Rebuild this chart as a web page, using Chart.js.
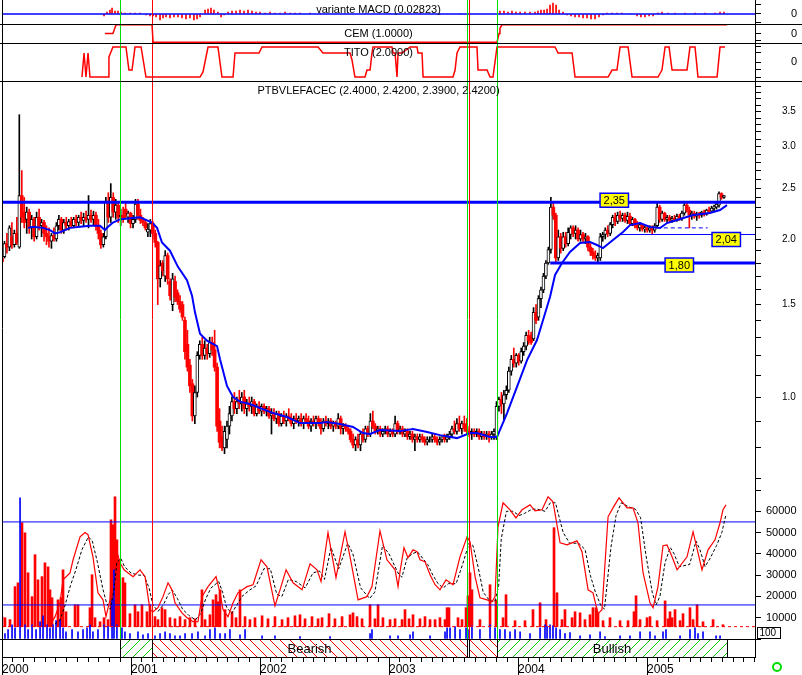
<!DOCTYPE html>
<html><head><meta charset="utf-8"><title>PTBVLEFACEC</title>
<script src="https://cdn.jsdelivr.net/npm/chart.js"></script>
<style>html,body{margin:0;padding:0;background:#fff;overflow:hidden}canvas{display:block}</style>
</head><body>
<canvas id="c" width="802" height="675"></canvas>
<script>
// ================= DATA =================
// weekly candles from first week of 2000
const opens = [
1.84,1.85,1.96,1.93,2.02,1.95,2.05,1.93,2.42,2.25,
2.18,2.25,2.10,2.18,2.02,2.20,2.12,2.15,2.05,2.02,
1.98,2.03,2.00,2.12,2.18,2.08,2.15,2.12,2.16,2.12,
2.18,2.15,2.20,2.17,2.20,2.18,2.22,2.18,2.22,2.12,
2.05,1.95,2.02,2.35,2.20,2.40,2.25,2.32,2.20,2.22,
2.28,2.20,2.24,2.14,2.18,2.33,2.22,2.17,2.15,2.06,
2.08,2.14,2.05,1.97,1.68,1.80,1.70,1.86,1.66,1.50,
1.66,1.58,1.52,1.50,1.40,1.26,1.15,1.06,0.92,1.02,
1.20,1.26,1.20,1.24,1.21,1.27,1.23,1.14,0.90,0.84,
0.80,0.83,0.88,0.92,0.98,0.95,0.98,0.97,1.00,0.95,
0.97,0.96,0.98,0.93,0.96,0.94,0.96,0.94,0.95,0.92,
0.93,0.91,0.93,0.89,0.92,0.90,0.92,0.91,0.89,0.91,
0.90,0.91,0.89,0.91,0.90,0.88,0.90,0.89,0.91,0.89,
0.87,0.90,0.89,0.90,0.88,0.89,0.88,0.91,0.87,0.88,
0.87,0.86,0.83,0.81,0.83,0.81,0.85,0.83,0.87,0.85,
0.90,0.88,0.86,0.87,0.85,0.86,0.87,0.85,0.86,0.85,
0.89,0.86,0.87,0.85,0.86,0.84,0.85,0.83,0.84,0.83,
0.84,0.83,0.82,0.83,0.83,0.84,0.83,0.82,0.83,0.84,
0.83,0.84,0.85,0.87,0.86,0.89,0.87,0.89,0.87,0.86,
0.85,0.86,0.85,0.86,0.84,0.85,0.84,0.85,0.84,0.85,
0.84,0.96,0.99,0.97,1.01,1.03,1.12,1.18,1.16,1.20,
1.17,1.22,1.25,1.31,1.31,1.29,1.45,1.42,1.54,1.60,
1.70,1.80,1.91,2.30,2.22,1.84,2.02,1.92,2.02,1.96,
2.04,2.10,2.05,2.08,2.00,2.04,2.00,2.02,1.93,1.89,
1.86,1.84,1.84,2.02,2.04,2.08,2.05,2.13,2.20,2.16,
2.22,2.19,2.22,2.17,2.21,2.14,2.18,2.12,2.10,2.13,
2.09,2.10,2.08,2.10,2.08,2.12,2.30,2.18,2.24,2.18,
2.20,2.17,2.19,2.18,2.21,2.19,2.24,2.32,2.27,2.22,
2.24,2.21,2.23,2.22,2.25,2.23,2.27,2.26,2.29,2.30,
2.32,2.44,2.40];
const highs = [
1.85,1.98,2.05,2.12,2.15,2.08,2.20,3.45,2.70,2.40,
2.30,2.28,2.22,2.20,2.25,2.28,2.18,2.17,2.12,2.10,
2.05,2.10,2.15,2.22,2.20,2.18,2.20,2.18,2.20,2.20,
2.22,2.22,2.25,2.24,2.26,2.42,2.27,2.26,2.25,2.18,
2.08,2.05,2.40,2.45,2.55,2.45,2.38,2.35,2.28,2.30,
2.35,2.26,2.25,2.22,2.38,2.38,2.28,2.20,2.18,2.14,
2.18,2.16,2.08,1.98,1.82,1.82,1.90,1.88,1.68,1.72,
1.70,1.60,1.56,1.52,1.42,1.34,1.18,1.08,1.05,1.22,
1.28,1.30,1.28,1.26,1.30,1.30,1.34,1.16,0.95,0.88,
0.88,0.90,0.96,1.00,1.02,1.00,1.03,1.02,1.03,0.99,
1.00,1.00,0.99,0.97,0.98,0.97,0.97,0.96,0.96,0.95,
0.95,0.94,0.94,0.93,0.94,0.93,0.95,0.93,0.92,0.93,
0.92,0.93,0.92,0.93,0.92,0.91,0.92,0.92,0.92,0.91,
0.91,0.92,0.91,0.91,0.90,0.90,0.93,0.92,0.89,0.89,
0.88,0.87,0.85,0.84,0.85,0.86,0.87,0.88,0.88,0.93,
0.94,0.89,0.88,0.88,0.87,0.88,0.88,0.87,0.87,0.92,
0.90,0.88,0.88,0.87,0.87,0.86,0.86,0.85,0.85,0.85,
0.85,0.84,0.84,0.84,0.85,0.85,0.84,0.84,0.84,0.85,
0.85,0.86,0.88,0.90,0.91,0.92,0.90,0.92,0.91,0.88,
0.87,0.87,0.87,0.87,0.86,0.86,0.86,0.86,0.86,0.87,
0.98,1.00,1.02,1.03,1.05,1.14,1.20,1.24,1.21,1.21,
1.24,1.27,1.33,1.34,1.33,1.48,1.50,1.56,1.62,1.72,
1.82,1.93,2.40,2.35,2.24,2.08,2.05,2.06,2.06,2.10,
2.12,2.12,2.12,2.10,2.08,2.06,2.05,2.03,1.96,1.92,
1.90,1.88,2.05,2.06,2.10,2.12,2.15,2.22,2.24,2.25,
2.26,2.24,2.24,2.25,2.24,2.20,2.19,2.16,2.15,2.14,
2.12,2.12,2.12,2.12,2.14,2.35,2.32,2.26,2.25,2.22,
2.22,2.21,2.22,2.23,2.23,2.26,2.36,2.35,2.30,2.26,
2.26,2.25,2.25,2.26,2.27,2.28,2.30,2.31,2.32,2.34,
2.46,2.45,2.42];
const lows = [
1.80,1.84,1.88,1.90,1.92,1.93,1.95,1.92,2.15,2.10,
2.05,2.05,2.00,1.98,2.00,2.08,2.02,1.98,1.95,1.93,
1.92,1.98,1.98,2.08,2.05,2.05,2.08,2.08,2.10,2.10,
2.12,2.12,2.14,2.12,2.15,2.10,2.15,2.12,2.08,2.00,
1.92,1.93,2.00,2.15,2.15,2.20,2.18,2.15,2.12,2.15,
2.18,2.15,2.10,2.10,2.15,2.18,2.14,2.12,2.08,2.02,
2.02,2.00,1.93,1.50,1.62,1.70,1.66,1.64,1.53,1.46,
1.52,1.50,1.45,1.40,1.18,1.12,1.02,0.90,0.89,1.00,
1.18,1.18,1.18,1.18,1.19,1.20,1.12,0.86,0.80,0.79,
0.78,0.80,0.85,0.90,0.93,0.93,0.95,0.94,0.93,0.92,
0.94,0.93,0.92,0.92,0.93,0.92,0.93,0.92,0.91,0.85,
0.90,0.89,0.88,0.88,0.89,0.88,0.90,0.88,0.87,0.89,
0.88,0.88,0.87,0.89,0.87,0.86,0.88,0.87,0.88,0.85,
0.86,0.88,0.87,0.87,0.86,0.87,0.87,0.85,0.85,0.86,
0.85,0.82,0.80,0.79,0.80,0.79,0.82,0.82,0.84,0.84,
0.87,0.85,0.85,0.84,0.84,0.85,0.84,0.84,0.84,0.84,
0.85,0.85,0.84,0.84,0.83,0.83,0.82,0.79,0.82,0.82,
0.82,0.81,0.81,0.82,0.82,0.82,0.81,0.81,0.82,0.82,
0.82,0.83,0.84,0.85,0.85,0.86,0.85,0.86,0.85,0.84,
0.83,0.84,0.84,0.83,0.83,0.83,0.83,0.82,0.83,0.83,
0.83,0.94,0.93,0.90,0.99,1.02,1.10,1.14,1.14,1.15,
1.16,1.20,1.23,1.26,1.26,1.28,1.38,1.40,1.48,1.58,
1.68,1.79,1.88,2.18,1.80,1.82,1.88,1.90,1.93,1.94,
2.00,2.02,2.00,1.98,1.98,1.97,1.96,1.90,1.86,1.83,
1.82,1.81,1.82,1.98,2.00,2.02,2.03,2.10,2.12,2.14,
2.16,2.16,2.15,2.14,2.12,2.12,2.10,2.08,2.07,2.07,
2.06,2.06,2.06,2.04,2.06,2.10,2.15,2.16,2.16,2.15,
2.15,2.15,2.16,2.16,2.17,2.17,2.22,2.25,2.10,2.18,
2.19,2.17,2.19,2.20,2.21,2.22,2.24,2.25,2.26,2.28,
2.30,2.38,2.39];
const closes = [
1.81,1.96,1.93,2.10,1.95,2.05,1.97,2.42,2.20,2.15,
2.25,2.10,2.18,2.02,2.20,2.12,2.15,2.05,2.02,1.98,
2.03,2.00,2.12,2.18,2.08,2.15,2.12,2.16,2.12,2.18,
2.15,2.20,2.17,2.20,2.18,2.22,2.18,2.22,2.12,2.05,
1.95,2.02,2.35,2.20,2.40,2.25,2.32,2.20,2.22,2.18,
2.22,2.24,2.14,2.18,2.33,2.22,2.17,2.15,2.10,2.09,
2.14,2.05,1.97,1.68,1.78,1.74,1.86,1.68,1.56,1.68,
1.55,1.52,1.47,1.42,1.22,1.14,1.05,0.92,1.02,1.20,
1.26,1.20,1.24,1.21,1.27,1.23,1.14,0.88,0.82,0.80,
0.86,0.88,0.93,0.98,0.95,0.98,0.97,1.00,0.95,0.97,
0.96,0.98,0.93,0.96,0.94,0.96,0.94,0.95,0.92,0.93,
0.91,0.93,0.89,0.92,0.90,0.92,0.91,0.89,0.91,0.90,
0.91,0.89,0.91,0.90,0.88,0.90,0.89,0.91,0.89,0.87,
0.90,0.89,0.90,0.88,0.89,0.88,0.91,0.87,0.88,0.87,
0.86,0.83,0.81,0.83,0.81,0.85,0.83,0.87,0.85,0.90,
0.88,0.86,0.87,0.85,0.86,0.87,0.85,0.86,0.85,0.89,
0.86,0.87,0.85,0.86,0.84,0.85,0.83,0.84,0.83,0.84,
0.83,0.82,0.83,0.83,0.84,0.83,0.82,0.83,0.84,0.83,
0.84,0.85,0.87,0.86,0.89,0.87,0.89,0.87,0.86,0.85,
0.86,0.85,0.86,0.84,0.85,0.84,0.85,0.84,0.85,0.86,
0.96,0.99,0.97,1.01,1.03,1.12,1.18,1.16,1.20,1.17,
1.22,1.25,1.31,1.28,1.27,1.45,1.40,1.54,1.60,1.70,
1.80,1.91,2.30,2.22,1.84,2.02,1.92,2.02,1.96,2.06,
2.10,2.05,2.08,2.00,2.04,2.00,2.02,1.93,1.89,1.86,
1.84,1.86,2.02,2.04,2.08,2.05,2.13,2.20,2.16,2.22,
2.19,2.22,2.17,2.21,2.14,2.18,2.12,2.10,2.13,2.09,
2.10,2.08,2.10,2.08,2.12,2.30,2.18,2.24,2.18,2.20,
2.17,2.19,2.18,2.21,2.19,2.24,2.32,2.27,2.22,2.24,
2.21,2.23,2.22,2.25,2.23,2.27,2.26,2.29,2.30,2.33,
2.44,2.40,2.42];

// moving average (blue)
const maDates = [2000.202,2000.240,2000.318,2000.372,2000.411,2000.450,2000.488,2000.527,2000.605,2000.682,2000.760,2000.798,2000.822,2000.860,2000.915,2000.992,
2001.070,2001.163,2001.202,2001.240,2001.302,2001.364,2001.434,2001.473,2001.496,2001.535,2001.589,2001.667,2001.690,2001.744,2001.791,2001.845,2001.922,
2002.000,2002.101,2002.209,2002.310,2002.465,2002.519,2002.620,2002.721,2002.798,2002.853,2002.930,
2003.085,2003.186,2003.295,2003.395,2003.527,2003.628,2003.682,2003.783,2003.837,2003.915,2003.992,
2004.070,2004.147,2004.194,2004.248,2004.287,2004.341,2004.403,2004.481,2004.558,2004.612,2004.659,2004.736,2004.814,2004.868,2004.946,
2005.023,2005.101,2005.155,2005.233,2005.357,2005.488,2005.566,2005.620];
const maValues = [2.10,2.11,2.10,2.08,2.05,2.06,2.08,2.10,2.11,2.12,2.12,2.08,2.11,2.15,2.18,2.19,
2.20,2.15,2.10,1.97,1.90,1.77,1.67,1.56,1.45,1.32,1.28,1.25,1.18,1.05,1.00,0.98,0.97,
0.953,0.932,0.916,0.892,0.892,0.896,0.888,0.877,0.854,0.850,0.865,
0.861,0.869,0.858,0.846,0.835,0.854,0.854,0.839,0.839,0.932,1.045,
1.176,1.284,1.402,1.551,1.708,1.800,1.889,1.965,1.974,1.948,1.922,1.991,2.062,2.126,2.145,
2.108,2.099,2.145,2.174,2.222,2.241,2.271,2.321];

// support / resistance levels
const levelValues = [2.35, 2.04, 1.80];
const levelTexts = ['2,35', '2,04', '1,80'];
const levelStarts = [2000.0, 2004.79, 2004.25];
const dashLevelValue = 2.10;
const dashLevelDates = [2005.13, 2005.47];

// lower panel: red bars (from baseline), blue bars, oscillator + signal
const volBaseline = 5800;
const redVolDates = [2000.000,2000.023,2000.062,2000.101,2000.124,2000.155,2000.178,2000.202,2000.233,2000.256,2000.279,2000.310,2000.333,2000.357,2000.372,2000.388,2000.434,2000.457,2000.473,2000.496,2000.566,2000.589,2000.682,2000.698,2000.721,2000.760,2000.791,2000.822,2000.845,2000.860,2000.876,2000.891,2000.907,2000.938,2000.953,2000.992,
2001.031,2001.054,2001.085,2001.124,2001.147,2001.186,2001.209,2001.240,2001.264,2001.302,2001.341,2001.380,2001.419,2001.457,2001.496,2001.550,2001.574,2001.612,2001.636,2001.659,2001.674,2001.690,2001.729,2001.783,2001.814,2001.845,2001.884,2001.922,2001.961,
2002.016,2002.062,2002.116,2002.171,2002.217,2002.271,2002.310,2002.349,2002.403,2002.450,2002.481,2002.535,2002.581,2002.636,2002.698,2002.721,2002.752,2002.791,2002.853,2002.891,2002.915,2002.953,
2003.008,2003.047,2003.101,2003.124,2003.155,2003.186,2003.240,2003.279,2003.318,2003.357,2003.395,2003.434,2003.450,2003.465,2003.535,2003.566,2003.597,2003.612,2003.628,2003.643,2003.705,2003.783,2003.829,2003.884,2003.907,2003.977,
2004.054,2004.116,2004.171,2004.217,2004.279,2004.302,2004.341,2004.364,2004.419,2004.442,2004.481,2004.519,2004.558,2004.581,2004.605,2004.620,2004.659,2004.713,2004.791,2004.853,2004.899,2004.915,2004.946,
2005.000,2005.023,2005.078,2005.140,2005.163,2005.178,2005.194,2005.217,2005.256,2005.279,2005.333,2005.357,2005.388,2005.434,2005.512,2005.589];
const redVolValues = [10500,10000,9100,24600,26400,54600,49900,31100,19900,39600,27800,29300,35800,33900,23100,19400,18400,19400,32500,12800,16100,16100,14700,30200,10000,8100,10000,9100,56000,53700,66800,46600,37200,28800,26400,11900,
16100,12800,16100,12800,16100,10500,9100,14700,13800,10000,9500,10500,9100,10000,9500,23100,9100,11400,18400,20800,17500,23100,13800,12800,10000,23100,10500,9100,10000,
10900,9500,10500,9100,10000,10900,11400,9500,10500,9500,10000,11900,9500,10500,11400,12300,10500,9500,16100,9500,16100,10000,
9100,9500,9100,13800,9500,11400,9500,10500,9100,9100,10000,9100,14700,14700,10000,9100,14700,20300,31100,23100,9100,25500,18400,10000,20800,8600,
8600,13800,17000,9100,52300,21700,9100,13800,10000,12800,12300,9100,11400,14700,14700,12300,8600,10000,8600,8600,12800,20300,9100,
10000,10500,8600,17900,9500,12800,10000,13800,8600,11900,14700,9100,16100,8100,9100,6700];
const blueVolDates = [2000.023,2000.047,2000.078,2000.101,2000.140,2000.178,2000.202,2000.233,2000.264,2000.295,2000.318,2000.349,2000.372,2000.395,2000.419,2000.450,2000.473,2000.496,2000.543,2000.589,2000.628,2000.659,2000.682,2000.705,2000.744,2000.791,2000.822,2000.853,2000.868,2000.891,2000.930,2000.953,2000.992,
2001.054,2001.093,2001.132,2001.186,2001.225,2001.264,2001.302,2001.341,2001.380,2001.419,2001.473,2001.519,2001.574,2001.612,2001.651,2001.690,2001.729,2001.767,2001.845,2001.884,
2002.016,2002.116,2002.310,2002.543,2002.853,2002.868,
2003.008,2003.070,2003.163,2003.186,2003.318,2003.434,2003.450,2003.473,2003.512,2003.550,2003.597,2003.612,2003.643,2003.705,2003.783,2003.822,2003.860,2003.899,2003.938,2003.977,
2004.016,2004.093,2004.171,2004.209,2004.225,2004.248,2004.271,2004.295,2004.326,2004.364,2004.403,2004.481,2004.558,2004.636,2004.674,2004.791,2004.868,2004.946,
2005.023,2005.062,2005.124,2005.147,2005.256,2005.333,2005.372,2005.395,2005.434,2005.535,2005.566];
const blueVolValues = [2500,4400,6700,5300,66300,6700,4400,6700,4400,8100,10900,6700,5300,6700,8600,9100,5300,3400,4400,3400,4400,5300,6700,3400,4400,6700,5800,18400,32500,6700,5300,3400,2500,
3400,2000,2500,1500,2500,3400,2500,1500,1500,2500,2500,3400,1500,4400,5300,2500,2500,4400,2000,4400,
1500,1500,1100,1100,2500,4400,
1500,1500,2000,3400,1500,3400,5300,5300,5800,4400,5300,4400,6200,4400,6700,5300,4400,4400,3400,4400,
3400,2500,5300,6700,5800,6700,6200,5300,4400,2500,3000,1500,2000,3400,1100,1500,1500,3400,
3400,1500,3400,4400,1500,4400,5300,2500,3400,1500,1500];
const oscDates = [2000.388,2000.411,2000.450,2000.473,2000.527,2000.550,2000.605,2000.643,2000.667,2000.705,2000.744,2000.783,2000.806,2000.837,2000.860,2000.891,2000.915,2000.946,
2001.016,2001.070,2001.109,2001.147,2001.171,2001.209,2001.248,2001.287,2001.318,2001.341,2001.395,2001.434,2001.481,2001.519,2001.550,2001.597,2001.659,2001.690,2001.713,2001.752,2001.791,2001.829,2001.899,2001.946,
2002.008,2002.054,2002.116,2002.155,2002.202,2002.256,2002.326,2002.388,2002.442,2002.473,2002.527,2002.589,2002.659,2002.698,2002.760,2002.829,2002.868,2002.930,2002.984,
2003.047,2003.070,2003.085,2003.116,2003.147,2003.186,2003.217,2003.240,2003.279,2003.318,2003.357,2003.395,2003.442,2003.496,2003.550,2003.605,2003.628,2003.667,2003.705,2003.760,2003.798,2003.822,2003.845,2003.884,2003.938,2003.984,
2004.031,2004.093,2004.132,2004.186,2004.233,2004.271,2004.326,2004.380,2004.457,2004.496,2004.543,2004.581,2004.620,2004.651,2004.698,2004.736,2004.783,2004.845,2004.891,2004.930,2004.969,
2005.023,2005.047,2005.085,2005.124,2005.155,2005.194,2005.233,2005.310,2005.357,2005.395,2005.426,2005.473,2005.527,2005.566,2005.589,2005.612];
const oscValues = [8100,10500,17000,27800,31000,37000,48000,50000,49000,38600,21700,18400,10500,18400,38600,41000,35800,32500,
29300,32500,29300,13800,12800,14700,19900,26400,23100,17000,12300,10000,8100,8100,19900,24600,29300,21700,13800,10500,17000,21700,24600,25500,
37200,33900,15600,23100,32500,26400,23100,35300,32500,27000,50000,28800,50400,38600,18400,19900,24600,50800,37200,
32500,24600,31600,42900,38200,41900,41000,37200,36300,30200,25500,23100,27800,25500,38600,48000,45700,29300,19400,18400,17500,19900,52700,64000,60700,56900,
60700,63000,60200,60700,66800,64500,45200,44200,46100,41000,23100,21700,11900,13800,57400,61600,66300,61600,61600,54600,31200,
17000,14700,24600,43800,44200,38600,32500,38600,50400,40600,32500,41900,46600,54600,60700,63000];
const sigDates = [2000.41,2000.45,2000.49,2000.53,2000.57,2000.62,2000.67,2000.70,2000.74,2000.78,2000.81,2000.84,2000.87,2000.89,2000.92,2000.95,
2001.00,2001.06,2001.10,2001.14,2001.17,2001.21,2001.25,2001.29,2001.32,2001.36,2001.40,2001.45,2001.50,2001.54,2001.58,2001.62,2001.68,2001.71,2001.74,2001.78,2001.82,2001.86,2001.92,2001.97,
2002.03,2002.08,2002.13,2002.17,2002.22,2002.28,2002.35,2002.41,2002.46,2002.50,2002.55,2002.61,2002.68,2002.72,2002.78,2002.85,2002.89,2002.95,
2003.00,2003.07,2003.10,2003.14,2003.18,2003.22,2003.26,2003.30,2003.34,2003.38,2003.42,2003.46,2003.52,2003.57,2003.62,2003.65,2003.69,2003.73,2003.78,2003.82,2003.85,2003.87,2003.91,2003.96,
2004.01,2004.05,2004.11,2004.15,2004.21,2004.25,2004.29,2004.35,2004.40,2004.47,2004.52,2004.56,2004.60,2004.64,2004.67,2004.72,2004.76,2004.80,2004.86,2004.91,2004.95,2004.99,
2005.04,2005.07,2005.10,2005.14,2005.18,2005.21,2005.25,2005.33,2005.38,2005.41,2005.45,2005.49,2005.54,2005.58,2005.61];
const sigValues = [7000,9000,16000,25000,32000,42000,48000,46000,36000,24000,17000,14000,24000,36000,38000,34000,
31000,30000,30000,24000,16000,13000,16000,21000,23000,19000,14000,11000,9000,12000,19000,24000,27000,22000,15000,12000,16000,20000,23000,25000,
33000,33000,21000,20000,28000,27000,24000,31000,32000,28000,43000,33000,45000,40000,24000,19000,22000,44000,
40000,31000,29000,38000,40000,41000,38000,35000,30000,26000,24000,26000,26000,35000,45000,44000,34000,22000,18000,17500,25000,47000,60000,60000,
58000,59000,61000,61000,60000,64000,64000,50000,45000,45000,42000,30000,22000,16000,14000,43000,58000,64000,62000,61000,57000,40000,
22000,16000,20000,36000,43000,40000,34000,35000,46000,42000,34000,38000,44000,50000,58000];
const volLevels = [55000, 16000];

// variante MACD histogram
const macdDates = [2000.791,2000.814,2000.837,2000.853,2000.876,2000.899,2000.922,2000.953,2000.992,
2001.031,2001.070,2001.116,2001.147,2001.171,2001.194,2001.225,2001.248,2001.271,2001.302,2001.333,2001.364,2001.395,2001.426,2001.457,2001.488,2001.512,2001.535,2001.574,2001.597,2001.620,2001.643,2001.674,2001.698,2001.721,2001.752,2001.783,2001.814,2001.845,2001.876,2001.907,2001.938,2001.969,
2002.000,2002.039,2002.078,2002.116,2002.155,2002.194,2002.233,2002.271,2002.310,2002.388,2002.465,2002.659,2002.814,
2003.008,2003.124,2003.240,2003.395,2003.550,2003.628,2003.860,2003.891,2003.922,2003.953,2003.984,
2004.016,2004.054,2004.093,2004.132,2004.155,2004.178,2004.202,2004.225,2004.248,2004.271,2004.295,2004.318,2004.349,2004.380,2004.411,2004.442,2004.473,2004.504,2004.535,2004.566,2004.597,2004.628,2004.659,2004.690,2004.729,2004.767,2004.806,2004.868,2004.922,2004.953,2004.984,
2005.016,2005.047,2005.085,2005.116,2005.163,2005.217,2005.295,2005.372,2005.450,2005.527,2005.566,2005.597];
const macdValues = [-0.03,0.03,0.06,0.09,0.045,0.045,0.03,0.015,0.015,
0.015,0.015,-0.015,-0.03,-0.03,-0.045,-0.09,-0.06,-0.045,-0.06,-0.045,-0.045,-0.06,-0.075,-0.06,-0.09,-0.075,-0.045,0.06,0.075,0.09,0.06,0.03,-0.045,-0.015,0.03,0.045,0.045,0.06,0.045,0.06,0.045,0.03,
0.03,0.015,0.03,0.015,0.015,0.03,0.015,0.015,0.015,0.015,0.015,0.008,0.008,
0.008,0.008,0.015,-0.008,0.008,0.008,0.045,0.045,0.03,0.045,0.03,
0.03,0.03,0.03,0.03,0.045,0.06,0.06,0.075,0.135,0.165,0.135,0.06,0.03,-0.015,-0.03,-0.045,-0.045,-0.06,-0.06,-0.075,-0.075,-0.045,-0.015,0.015,0.015,0.015,0.015,0.008,-0.03,-0.045,-0.045,
-0.03,-0.03,0.015,0.03,0.015,0.015,0.015,0.015,0.015,0.015,0.03,0.03];

// CEM and TITO indicator lines
const cemDates = [2000.798,2000.860,2000.884,2001.163,2001.171,2003.837,2003.853,2003.860,2003.876,2005.620];
const cemValues = [0,0,1,1,-1,-1,0,0.6,1,1];
const titoDates = [2000.620,2000.636,2000.651,2000.667,2000.682,2000.822,2000.829,2000.860,2000.961,2000.984,2001.008,2001.031,2001.078,2001.116,2001.535,2001.558,2001.597,2001.674,2001.705,2001.791,2001.806,2001.992,
2002.016,2002.450,2002.488,2002.698,2002.713,2002.736,2002.814,2002.829,2002.853,2002.868,2002.876,2003.023,2003.031,2003.047,2003.062,2003.070,2003.101,2003.163,2003.217,2003.225,2003.256,2003.264,
2003.496,2003.512,2003.527,2003.550,2003.682,2003.690,2003.760,2003.783,2003.806,2003.837,2004.287,2004.310,2004.419,2004.442,2004.698,2004.729,2004.767,2004.791,2004.853,2004.884,
2005.085,2005.116,2005.140,2005.171,2005.194,2005.310,2005.333,2005.372,2005.395,2005.543,2005.566,2005.605];
const titoValues = [-2,1.2,-2,1.2,-2,-2,0.67,2,2,-1.07,-1.07,2,2,-2,-2,-1.33,2,2,-2,-2,1.2,1.2,
2,2,1.2,1.2,0.27,-2,-2,-1.07,-1.07,1.2,2,2,1.2,1.2,-2,1.2,1.2,2,2,1.2,1.2,-2,
-2,-1.07,1.2,2,2,-1.07,-1.07,-2,-2,2,2,1.2,1.2,-2,-2,-1.07,-1.07,2,2,-2,
-2,-1.07,2,2,-1.07,-1.07,2,2,-2,-2,2,2];

// signals and trend band
const signalDates = [2000.915, 2001.163, 2003.605, 2003.620, 2003.837];
const signalKinds = ['buy', 'sell', 'buy', 'sell', 'buy'];
const bandStarts = [2000.915, 2001.163, 2003.620, 2003.837];
const bandEnds = [2001.163, 2003.605, 2003.837, 2005.620];
const bandKinds = ['bull', 'bear', 'bear', 'bull'];
const bandLabels = ['', 'Bearish', '', 'Bullish'];

// axis ticks
const years = [2000, 2001, 2002, 2003, 2004, 2005];
const priceTickValues = [0.7,0.8,0.9,1.0,1.1,1.2,1.3,1.4,1.5,1.6,1.7,1.8,1.9,2.0,2.1,2.2,2.3,2.4,2.5,2.6,2.7,2.8,2.9,3.0,3.1,3.2,3.3,3.4,3.5,3.6,3.7,3.8,3.9];
const priceTickLabels = ['1.0','1.5','2.0','2.5','3.0','3.5'];
const volTickValues = [0,10000,20000,30000,40000,50000,60000,70000];
const volTickLabels = ['10000','20000','30000','40000','50000','60000'];
const macdTickValues = [-0.12, 0, 0.135];
const cemTickValues = [-0.8, 0, 1];
const titoTickValues = [-2, -1, 0, 1.2, 2];
const panelTitles = ['variante MACD (0.02823)', 'CEM (1.0000)', 'TITO (2.0000)', 'PTBVLEFACEC (2.4000, 2.4200, 2.3900, 2.4200)'];
const lowerBoxText = '100';

// ================= RENDER =================
const X_MIN = 2000.0, X_MAX = 2005.837;
const RED = '#ff0000', BLUE = '#0000ff', GREEN = '#00dd00', BLACK = '#000000';
const FONT = '"Liberation Sans", Arial, sans-serif';
Chart.defaults.font.family = FONT;
Chart.defaults.color = BLACK;

const canvas = document.getElementById('c');
const mainCtx = canvas.getContext('2d');
function hatch(color, forward) {
  const c = document.createElement('canvas'); c.width = 10; c.height = 10;
  const g = c.getContext('2d');
  g.fillStyle = '#ffffff'; g.fillRect(0, 0, 10, 10);
  g.strokeStyle = color; g.lineWidth = 1; g.beginPath();
  if (forward) { g.moveTo(0, 10); g.lineTo(10, 0); g.moveTo(-1, 1); g.lineTo(1, -1); g.moveTo(9, 11); g.lineTo(11, 9); }
  else { g.moveTo(0, 0); g.lineTo(10, 10); g.moveTo(-1, 9); g.lineTo(1, 11); g.moveTo(9, -1); g.lineTo(11, 1); }
  g.stroke();
  return mainCtx.createPattern(c, 'repeat');
}
const bullHatch = hatch('#00cc00', true);
const bearHatch = hatch(RED, false);

const weeksPerYear = 365.25 / 7;
const candleDates = opens.map((_, i) => 2000 + i / weeksPerYear);
const isUp = closes.map((c, i) => c >= opens[i]);
const pts = (xs, ys) => xs.map((x, i) => ({ x, y: ys[i] }));
const hline = (x0, x1, v) => [{ x: x0, y: v }, { x: x1, y: v }];
const L = (o) => Object.assign({ type: 'line', pointRadius: 0, pointHitRadius: 0, fill: false, tension: 0, borderWidth: 1 }, o);
const B = (o) => Object.assign({ type: 'bar', grouped: false, borderWidth: 0 }, o);

const datasets = [
  // lower panel
  L({ data: pts(oscDates, oscValues), yAxisID: 'yVol', borderColor: RED, borderWidth: 1.2, order: 1 }),
  L({ data: pts(sigDates, sigValues), yAxisID: 'yVol', borderColor: BLACK, borderWidth: 1, borderDash: [3, 2], order: 2 }),
  ...volLevels.map(v => L({ data: hline(X_MIN, X_MAX, v), yAxisID: 'yVol', borderColor: BLUE, order: 3 })),
  L({ data: hline(X_MIN, X_MAX, volBaseline), yAxisID: 'yVol', borderColor: RED, borderDash: [3, 3], order: 4 }),
  B({ data: redVolDates.map((d, i) => ({ x: d, y: [volBaseline, redVolValues[i]] })), yAxisID: 'yVol', backgroundColor: RED, barThickness: 2, order: 6 }),
  B({ data: blueVolDates.map((d, i) => ({ x: d, y: [0, blueVolValues[i]] })), yAxisID: 'yVol', backgroundColor: BLUE, barThickness: 1, order: 5 }),
  // price panel
  L({ data: pts(maDates, maValues), yAxisID: 'yPrice', borderColor: BLUE, borderWidth: 2, order: 1 }),
  ...levelValues.map((v, i) => L({ data: hline(levelStarts[i], X_MAX, v), yAxisID: 'yPrice', borderColor: BLUE, borderWidth: i === 1 ? 1 : 3, order: 2 })),
  L({ data: hline(dashLevelDates[0], dashLevelDates[1], dashLevelValue), yAxisID: 'yPrice', borderColor: BLUE, borderDash: [4, 3], order: 2 }),
  B({ data: candleDates.map((d, i) => ({ x: d, y: [opens[i], closes[i]] })), yAxisID: 'yPrice',
      backgroundColor: isUp.map(u => u ? '#ffffff' : RED), borderColor: isUp.map(u => u ? BLACK : RED),
      borderWidth: isUp.map(u => u ? 1 : 0), borderSkipped: false, barThickness: 3, order: 5 }),
  B({ data: candleDates.map((d, i) => ({ x: d, y: [lows[i], highs[i]] })), yAxisID: 'yPrice',
      backgroundColor: isUp.map(u => u ? BLACK : RED), barThickness: 1, order: 6 }),
  // top panels
  L({ data: hline(X_MIN, X_MAX, 0), yAxisID: 'yMacd', borderColor: BLUE, borderWidth: 1.5, order: 1 }),
  B({ data: pts(macdDates, macdValues), yAxisID: 'yMacd', backgroundColor: RED, barThickness: 1, order: 2 }),
  L({ data: pts(cemDates, cemValues), yAxisID: 'yCem', borderColor: RED, borderWidth: 1.5, order: 1 }),
  L({ data: pts(titoDates, titoValues), yAxisID: 'yTito', borderColor: RED, borderWidth: 1.5, order: 1 }),
  // trend band
  ...bandStarts.map((s, i) => L({ data: hline(s, bandEnds[i], 1), yAxisID: 'yBand', borderWidth: 0, borderColor: 'rgba(0,0,0,0)',
      backgroundColor: bandKinds[i] === 'bull' ? bullHatch : bearHatch, fill: 'origin', order: 9 }))
];

function yAxis(weight, stackWeight, min, max, tickValues, labelFn, font, padding, extra) {
  return Object.assign({
    type: 'linear', position: 'right', stack: 'panels', stackWeight, weight, min, max, bounds: 'data',
    border: { display: true, color: BLACK, width: 1 },
    grid: { drawOnChartArea: false, drawTicks: true, tickLength: 6, color: BLACK, offset: false },
    ticks: { autoSkip: false, color: BLACK, font: { size: font }, padding, callback: labelFn },
    afterBuildTicks: (sc) => { sc.ticks = tickValues.map(v => ({ value: v })); },
    afterFit: (sc) => { sc.width = 47; sc.paddingTop = 0; sc.paddingBottom = 0; }
  }, extra || {});
}
const zeroLabel = (v) => (Math.abs(v) < 1e-9 ? '0' : '');

const monthTicks = [];
years.forEach(y => { for (let m = 0; m < 12; m++) { const v = y + m / 12; if (v <= X_MAX) monthTicks.push(v); } });

const decor = {
  id: 'decor',
  afterDatasetsDraw(chart) {
    const { ctx, chartArea: ca, scales: s } = chart;
    const X = v => s.x.getPixelForValue(v);
    const h = v => Math.round(v) + 0.5;
    ctx.save();
    ctx.lineWidth = 1;
    // signal verticals
    signalDates.forEach((d, i) => {
      ctx.strokeStyle = signalKinds[i] === 'buy' ? GREEN : RED;
      ctx.beginPath(); ctx.moveTo(h(X(d)), ca.top); ctx.lineTo(h(X(d)), s.yBand.top); ctx.stroke();
    });
    // panel separators
    ctx.strokeStyle = BLACK;
    [s.yCem.top, s.yTito.top, s.yPrice.top].forEach(y => {
      ctx.beginPath(); ctx.moveTo(0, h(y)); ctx.lineTo(chart.width, h(y)); ctx.stroke();
    });
    ctx.beginPath(); ctx.moveTo(0, h(s.yBand.top)); ctx.lineTo(ca.right, h(s.yBand.top)); ctx.stroke();
    ctx.beginPath(); ctx.moveTo(h(ca.left), 0); ctx.lineTo(h(ca.left), ca.bottom); ctx.stroke();
    // band outlines and labels
    bandStarts.forEach((b, i) => {
      [b, bandEnds[i]].forEach(d => { ctx.beginPath(); ctx.moveTo(h(X(d)), s.yBand.top); ctx.lineTo(h(X(d)), s.yBand.bottom); ctx.stroke(); });
      if (bandLabels[i]) {
        ctx.fillStyle = BLACK; ctx.font = '13px ' + FONT; ctx.textAlign = 'center'; ctx.textBaseline = 'middle';
        ctx.fillText(bandLabels[i], (X(b) + X(bandEnds[i])) / 2, (s.yBand.top + s.yBand.bottom) / 2 + 1);
      }
    });
    // long year ticks
    years.forEach(y => { ctx.beginPath(); ctx.moveTo(h(X(y)), ca.bottom); ctx.lineTo(h(X(y)), chart.height); ctx.stroke(); });
    // panel titles
    ctx.fillStyle = BLACK; ctx.font = '11px ' + FONT; ctx.textAlign = 'center'; ctx.textBaseline = 'middle';
    const cx = (ca.left + ca.right) / 2;
    [s.yMacd, s.yCem, s.yTito, s.yPrice].forEach((sc, i) => ctx.fillText(panelTitles[i], cx, sc.top + 10));
    // level boxes
    const boxDates = [2004.636, 2005.504, 2005.140], boxShift = [-2, 5, 2];
    levelTexts.forEach((t, i) => {
      const x0 = X(boxDates[i]);
      const yc = s.yPrice.getPixelForValue(levelValues[i]) + boxShift[i];
      ctx.font = '11px ' + FONT;
      const w = ctx.measureText(t).width + 7, hh = 14;
      ctx.fillStyle = '#ffff00'; ctx.fillRect(x0, yc - hh / 2, w, hh);
      ctx.strokeStyle = BLUE; ctx.lineWidth = 1.5; ctx.strokeRect(x0, yc - hh / 2, w, hh);
      ctx.fillStyle = BLACK; ctx.textAlign = 'left'; ctx.textBaseline = 'middle';
      ctx.fillText(t, x0 + 3.5, yc + 0.5);
    });
    // small "100" box of lower panel
    ctx.lineWidth = 1; ctx.strokeStyle = BLACK; ctx.fillStyle = '#ffffff';
    const bx = ca.right + 2.5, by = Math.round(s.yVol.bottom) - 11.5;
    ctx.fillRect(bx, by, 23, 11); ctx.strokeRect(bx, by, 23, 11);
    ctx.fillStyle = BLACK; ctx.font = '10px ' + FONT; ctx.textAlign = 'left'; ctx.textBaseline = 'middle';
    ctx.fillText(lowerBoxText, bx + 2, by + 6);
    // status circle
    ctx.strokeStyle = GREEN; ctx.lineWidth = 2;
    ctx.beginPath(); ctx.arc(777, 667, 4, 0, Math.PI * 2); ctx.stroke();
    ctx.restore();
  }
};

new Chart(canvas, {
  type: 'line',
  data: { datasets },
  plugins: [decor],
  options: {
    responsive: false, animation: false, devicePixelRatio: 1, events: [],
    layout: { padding: { left: 2, right: 0, top: 0, bottom: 0 }, autoPadding: false },
    plugins: { legend: { display: false }, tooltip: { enabled: false }, title: { display: false } },
    scales: {
      x: {
        type: 'linear', position: 'bottom', min: X_MIN, max: X_MAX, offset: false, bounds: 'data',
        border: { display: true, color: BLACK, width: 1 },
        grid: { drawOnChartArea: false, drawTicks: true, tickLength: 5, color: BLACK, offset: false },
        ticks: { autoSkip: false, maxRotation: 0, minRotation: 0, align: 'start', padding: 0, color: BLACK, font: { size: 12 },
          callback: (v) => { const y = Math.round(v); return (Math.abs(v - y) < 1e-6 && years.includes(y)) ? String(y) : ''; } },
        afterBuildTicks: (sc) => { sc.ticks = monthTicks.map(v => ({ value: v })); },
        afterFit: (sc) => { sc.height = 18; sc.paddingLeft = 0; sc.paddingRight = 0; }
      },
      yMacd: yAxis(1, 24, -0.15, 0.21, macdTickValues, zeroLabel, 11, 30),
      yCem: yAxis(2, 19, -1.1, 1.1, cemTickValues, zeroLabel, 11, 30),
      yTito: yAxis(3, 38, -2.53, 2.53, titoTickValues, zeroLabel, 11, 30),
      yPrice: yAxis(4, 409, 0.665, 4.0, priceTickValues,
        (v) => { const t = Number(v).toFixed(1); return priceTickLabels.includes(t) ? t : ''; }, 10, 21, { type: 'logarithmic' }),
      yVol: yAxis(5, 149, 0, 70000, volTickValues,
        (v) => { const t = String(Math.round(v)); return volTickLabels.includes(t) ? t : ''; }, 11, 5),
      yBand: yAxis(6, 18, 0, 1, [], () => '', 11, 0, { grid: { display: false, drawOnChartArea: false, drawTicks: false }, ticks: { display: false } })
    }
  }
});
</script>
</body></html>
